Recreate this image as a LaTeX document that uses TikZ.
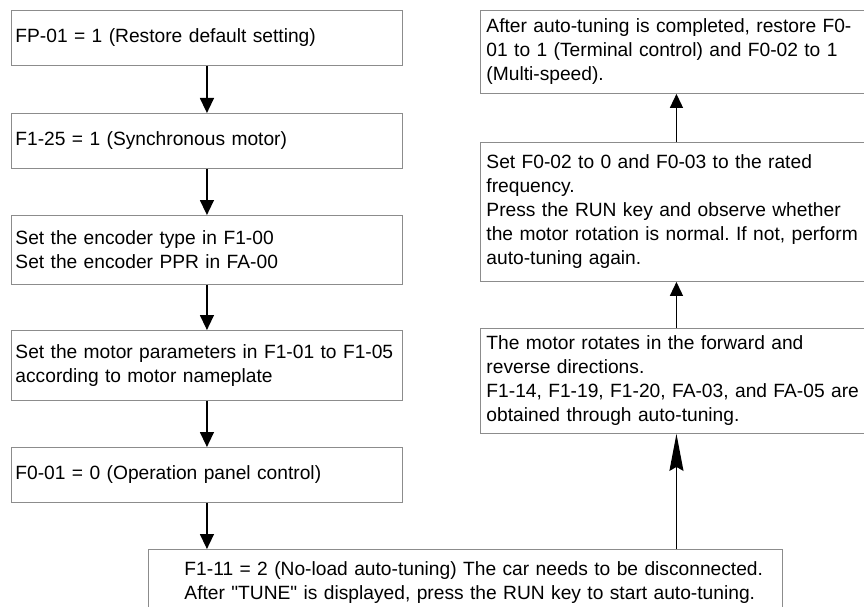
\documentclass[tikz,border=0pt]{standalone}
\usepackage{fontspec}
\setmainfont{Liberation Sans}
\usetikzlibrary{arrows.meta}
\frenchspacing
\tikzset{
  procbox/.style={draw=black!45, line width=0.9pt, anchor=north west, align=left,
    inner xsep=6pt, inner ysep=4pt, font=\fontsize{19.2}{24}\selectfont},
  leftbox/.style={procbox, inner xsep=4pt, text width=383pt},
  rightbox/.style={procbox, text width=380pt},
  down/.style={-{Triangle[length=15pt,width=14pt]}, line width=1.4pt},
  up/.style={-{Triangle[length=14pt,width=13pt]}, line width=1.4pt},
  uplong/.style={-{Stealth[length=37pt,width=14pt,inset=4pt]}, line width=1.4pt}
}
\begin{document}
\begin{tikzpicture}[x=1pt,y=-1pt]
  \useasboundingbox (0,0) rectangle (864,607);
  \clip (0,0) rectangle (864,607);

  \node[leftbox, minimum height=55pt] (fp01) at (11,10) {FP-01 = 1 (Restore default setting)};
  \node[leftbox, minimum height=55pt] (f125) at (11,113) {F1-25 = 1 (Synchronous motor)};
  \node[leftbox, minimum height=69pt] (enc) at (11,215) {Set the encoder type in F1-00\\Set the encoder PPR in FA-00};
  \node[leftbox, minimum height=70pt] (motor) at (11,330) {Set the motor parameters in F1-01 to F1-05\\according to motor nameplate};
  \node[leftbox, minimum height=55pt] (f001) at (11,447) {F0-01 = 0 (Operation panel control)};

  \node[procbox, text width=622pt, minimum height=66pt] (tune) at (148,549)
    {\hspace*{30pt}F1-11 = 2 (No-load auto-tuning) The car needs to be disconnected.\\
     \hspace*{30pt}After \textquotedbl TUNE\textquotedbl{} is displayed, press the RUN key to start auto-tuning.};

  \node[rightbox, minimum height=105pt] (rot) at (480,328)
    {The motor rotates in the forward and\\reverse directions.\\F1-14, F1-19, F1-20, FA-03, and FA-05 are\\obtained through auto-tuning.};
  \node[rightbox, minimum height=139pt] (run) at (480,142)
    {Set F0-02 to 0 and F0-03 to the rated\\frequency.\\Press the RUN key and observe whether\\the motor rotation is normal. If not, perform\\auto-tuning again.};
  \node[rightbox, minimum height=83pt] (done) at (480,10)
    {After auto-tuning is completed, restore F0-\\01 to 1 (Terminal control) and F0-02 to 1\\(Multi-speed).};

  \draw[down] (fp01.south) -- (f125.north);
  \draw[down] (f125.south) -- (enc.north);
  \draw[down] (enc.south) -- (motor.north);
  \draw[down] (motor.south) -- (f001.north);
  \draw[down] (f001.south) -- (f001.south |- tune.north);

  \draw[uplong] (tune.north -| rot.south) -- (rot.south);
  \draw[up] (rot.north) -- (run.south);
  \draw[up] (run.north) -- (done.south);
\end{tikzpicture}
\end{document}
